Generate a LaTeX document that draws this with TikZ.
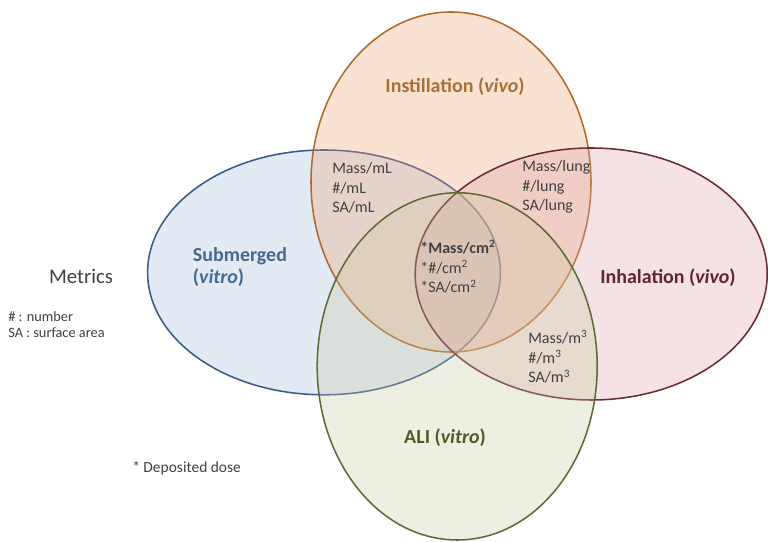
\documentclass[tikz,border=0pt]{standalone}
\usepackage{fontspec}
\setmainfont{Carlito}
\usepackage{xcolor}
\usepackage{tikz}
\definecolor{instfill}{RGB}{240,160,110}
\definecolor{instline}{RGB}{176,106,42}
\definecolor{instText}{RGB}{168,110,60}
\definecolor{subfill}{RGB}{160,185,220}
\definecolor{subline}{RGB}{58,90,138}
\definecolor{subText}{RGB}{70,105,145}
\definecolor{inhfill}{RGB}{220,160,165}
\definecolor{inhline}{RGB}{107,42,53}
\definecolor{inhText}{RGB}{100,35,50}
\definecolor{alifill}{RGB}{200,200,160}
\definecolor{aliline}{RGB}{94,107,53}
\definecolor{aliText}{RGB}{80,90,40}
\definecolor{txtgray}{RGB}{64,64,64}

\begin{document}
\begin{tikzpicture}[
    title/.style={font=\bfseries\fontsize{14.2}{15.6}\selectfont, align=left},
    metric/.style={font=\fontsize{11.4}{13.9}\selectfont, align=left, text=txtgray, inner sep=0pt},
    small/.style={font=\fontsize{10.2}{11.4}\selectfont, align=left, text=txtgray, inner sep=0pt},
    group/.style={line width=1.1pt, fill opacity=0.3}
  ]
                \useasboundingbox (0,0) rectangle (19.2,13.55);
                % The four dose groups
                \filldraw[group, subline, fill=subfill] (8.1,6.74) ellipse (4.41 and 3.06);
                \filldraw[group, instline, fill=instfill] (11.275,9.0) ellipse (3.5 and 4.25);
                \filldraw[group, inhline, fill=inhfill] (14.78,6.7) ellipse (4.4 and 3.15);
                \filldraw[group, aliline, fill=alifill] (11.43,4.39) ellipse (3.5 and 4.34);

                % Group names
                \node[title, text=instText] (inst) at (11.375,11.375) {Instillation (\textit{vivo})};
                \node[title, text=subText, anchor=west] (sub) at (4.7,6.875) {Submerged\\(\textit{vitro})};
                \node[title, text=inhText] (inh) at (16.7,6.6) {Inhalation (\textit{vivo})};
                \node[title, text=aliText] (ali) at (11.125,2.6) {ALI (\textit{vitro})};

                % Metrics in the overlaps
                \node[metric, anchor=west] (ml) at (8.3,8.85) {Mass/mL\\\#/mL\\SA/mL};
                \node[metric, anchor=west] (lung) at (13.05,8.875) {Mass/lung\\\#/lung\\SA/lung};
                \node[metric, anchor=west] (cm) at (10.5,6.875) {\textbf{*Mass/cm\textsuperscript{2}}\\*\#/cm\textsuperscript{2}\\*SA/cm\textsuperscript{2}};
                \node[metric, anchor=west] (m3) at (13.2,4.625) {Mass/m\textsuperscript{3}\\\#/m\textsuperscript{3}\\SA/m\textsuperscript{3}};

                % Legend
                \node[font=\fontsize{14.8}{16}\selectfont, text=txtgray] (metrics) at (2.025,6.65) {Metrics};
                \node[small, anchor=west] (legend) at (0.2,5.425) {\# : number\\SA : surface area};
                \node[metric, anchor=west, font=\fontsize{11}{13}\selectfont] (dose) at (3.3,1.85) {* Deposited dose};
            \end{tikzpicture}
\end{document}
